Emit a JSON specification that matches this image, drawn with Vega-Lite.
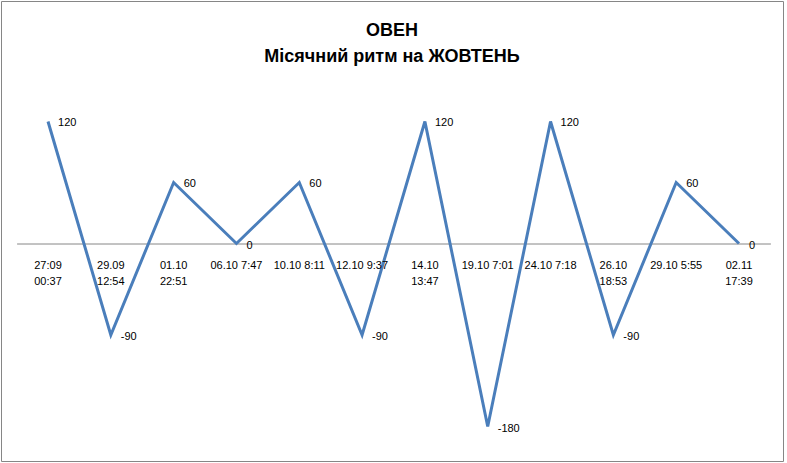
{
  "$schema": "https://vega.github.io/schema/vega-lite/v6.json",
  "autosize": "none",
  "padding": {"left": 1, "top": 1, "right": 4, "bottom": 2},
  "width": 782,
  "height": 460,
  "background": "white",
  "config": {"view": {"stroke": "#868686", "strokeWidth": 1}},
  "title": {
    "text": ["ОВЕН", "Місячний ритм на ЖОВТЕНЬ"],
    "anchor": "middle",
    "font": "Liberation Sans",
    "fontSize": 18,
    "fontWeight": "bold",
    "color": "black",
    "baseline": "top",
    "lineHeight": 26,
    "offset": -65
  },
  "data": {
    "values": [
      {"date": "27:09\n00:37", "value": 120},
      {"date": "29.09\n12:54", "value": -90},
      {"date": "01.10\n22:51", "value": 60},
      {"date": "06.10 7:47", "value": 0},
      {"date": "10.10 8:11", "value": 60},
      {"date": "12.10 9:37", "value": -90},
      {"date": "14.10\n13:47", "value": 120},
      {"date": "19.10 7:01", "value": -180},
      {"date": "24.10 7:18", "value": 120},
      {"date": "26.10\n18:53", "value": -90},
      {"date": "29.10 5:55", "value": 60},
      {"date": "02.11\n17:39", "value": 0}
    ]
  },
  "encoding": {
    "x": {
      "field": "date",
      "type": "nominal",
      "sort": null,
      "scale": {"type": "band", "range": [15.6, 769.4], "paddingInner": 0, "paddingOuter": 0},
      "axis": {
        "orient": "bottom",
        "offset": -217.5,
        "domain": true,
        "domainColor": "#868686",
        "domainWidth": 1,
        "ticks": false,
        "labels": false,
        "grid": false,
        "title": null
      }
    },
    "y": {
      "field": "value",
      "type": "quantitative",
      "scale": {"domain": [-213.9, 238.5], "nice": false, "zero": false},
      "axis": null
    }
  },
  "layer": [
    {
      "mark": {"type": "line", "color": "#4A7EBB", "strokeWidth": 3},
      "encoding": {}
    },
    {
      "mark": {"type": "text", "font": "Liberation Sans", "fontSize": 11, "color": "black", "align": "left", "baseline": "middle", "dx": 10, "dy": 2},
      "encoding": {"text": {"field": "value", "type": "nominal"}}
    },
    {
      "mark": {"type": "text", "font": "Liberation Sans", "fontSize": 11, "color": "black", "align": "center", "baseline": "top", "dy": 16, "lineBreak": "\n", "lineHeight": 16},
      "encoding": {
        "text": {"field": "date", "type": "nominal"},
        "y": {"datum": 0}
      }
    }
  ]
}
